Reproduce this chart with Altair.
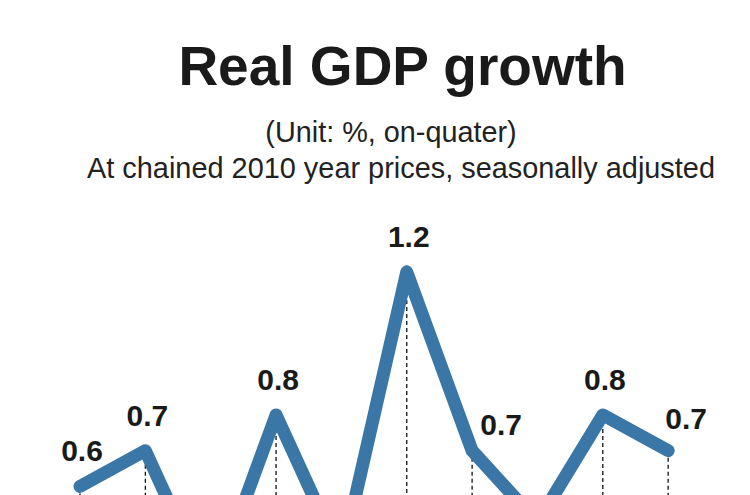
import altair as alt
import pandas as pd

quarters = ["Q1", "Q2", "Q3", "Q4", "Q5", "Q6", "Q7", "Q8", "Q9", "Q10"]
growth = [0.6, 0.7, 0.3, 0.8, 0.4, 1.2, 0.7, 0.5, 0.8, 0.7]
labels = ["0.6", "0.7", "0.3", "0.8", "0.4", "1.2", "0.7", "0.5", "0.8", "0.7"]

title_text = "Real GDP growth"
subtitle_1 = "(Unit: %, on-quater)"
subtitle_2 = "At chained 2010 year prices, seasonally adjusted"

df = pd.DataFrame({"i": list(range(len(growth))), "q": quarters, "v": growth, "lab": labels})

W, H = 734, 487
FONT = "Liberation Sans"
LINE = "#3a76a6"

xs = alt.Scale(domain=[-1.102, 10.13], nice=False, zero=False)
ys = alt.Scale(domain=[0.576, 1.938], nice=False, zero=False)

base = alt.Chart(df)

rules = base.mark_rule(color="#111111", strokeWidth=1.3, strokeDash=[4, 3], clip=True).encode(
    x=alt.X("i:Q", scale=xs, axis=None),
    y=alt.Y("v:Q", scale=ys, axis=None),
    y2=alt.Y2(datum=0),
)

line = base.mark_line(color=LINE, strokeWidth=13, strokeCap="round", strokeJoin="round", clip=True).encode(
    x=alt.X("i:Q", scale=xs, axis=None),
    y=alt.Y("v:Q", scale=ys, axis=None),
)

def lab_layer(flt, dx, dy):
    return base.transform_filter(flt).mark_text(
        font=FONT, fontSize=30, fontWeight="bold", color="#1a1a1a",
        align="center", baseline="alphabetic", dx=dx, dy=dy, clip=True,
    ).encode(
        x=alt.X("i:Q", scale=xs, axis=None),
        y=alt.Y("v:Q", scale=ys, axis=None),
        text="lab:N",
    )

labs_main = lab_layer("datum.v >= 0.6 && datum.i != 6 && datum.i != 9", 2, -25)
labs_6 = lab_layer("datum.i == 6", 29, -16)
labs_9 = lab_layer("datum.i == 9", 18, -22)

def txt(s, x, y, size, weight="normal", color="#1a1a1a"):
    return alt.Chart(pd.DataFrame({"t": [s]})).mark_text(
        font=FONT, fontSize=size, fontWeight=weight, color=color,
        align="center", baseline="alphabetic",
    ).encode(text="t:N", x=alt.value(x), y=alt.value(y))

t1 = txt(title_text, 394.5, 77, 55, "bold")
t2 = txt(subtitle_1, 383, 134, 28.8, color="#222222")
t3 = txt(subtitle_2, 393, 170, 28.9, color="#222222")

chart = alt.layer(rules, line, labs_main, labs_6, labs_9, t1, t2, t3).properties(
    width=W, height=H,
    autosize=alt.AutoSizeParams(type="none"),
    padding=0,
).configure(background="white", view=alt.ViewConfig(strokeWidth=0, stroke="transparent"))

chart.save("out.html", embed_options={"renderer": "svg", "actions": False})
